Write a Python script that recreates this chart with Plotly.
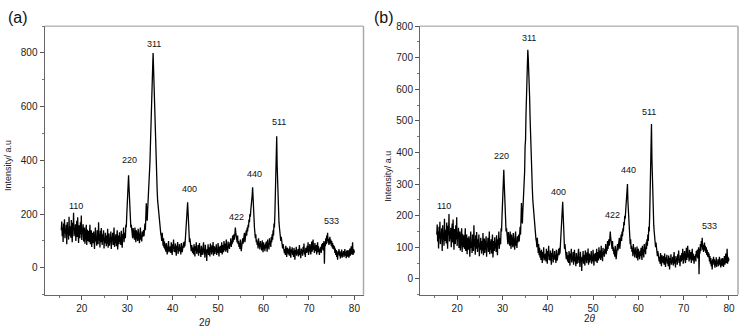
import plotly.graph_objects as go

# ---------------- data ----------------
two_theta_start = 15.5
two_theta_step = 0.1
# intensity of sample (a), one row per degree (0.1 deg steps)
intensity_a = [
    140,172,118,150,96,165,128,181,110,145,   # 15.5
    132,160,88,170,125,142,105,190,120,138,   # 16.5
    155,112,178,130,95,168,140,205,118,150,   # 17.5
    126,162,100,148,175,115,188,132,92,158,   # 18.5
    138,110,170,125,195,104,146,130,162,98,   # 19.5
    128,150,90,135,112,160,85,142,120,100,    # 20.5
    138,95,125,160,88,118,140,78,130,108,     # 21.5
    92,135,110,70,128,150,98,115,82,140,      # 22.5
    118,88,170,102,125,76,138,95,148,110,     # 23.5
    85,125,100,140,72,112,92,130,105,80,      # 24.5
    120,90,145,75,108,128,82,110,95,135,      # 25.5
    70,115,100,130,85,105,150,78,118,92,      # 26.5
    125,80,110,140,68,102,120,88,132,96,      # 27.5
    112,85,138,100,75,125,108,150,95,118,     # 28.5
    130,110,160,150,195,230,290,320,345,300,  # 29.5
    260,210,175,150,160,125,140,110,148,122,  # 30.5
    135,105,150,118,95,140,112,128,100,145,   # 31.5
    110,130,92,125,150,105,120,98,135,115,    # 32.5
    128,140,118,150,165,140,185,240,200,175,  # 33.5
    215,245,270,300,340,390,450,530,600,650,  # 34.5
    700,745,800,735,680,600,520,455,400,355,  # 35.5
    310,285,250,230,200,185,170,150,140,125,  # 36.5
    118,100,130,95,82,110,75,98,68,88,        # 37.5
    60,92,72,50,85,65,100,58,78,62,           # 38.5
    80,55,95,68,48,88,72,105,60,75,           # 39.5
    58,90,66,45,82,70,96,52,74,64,            # 40.5
    88,60,76,50,92,68,58,85,72,95,            # 41.5
    75,98,80,112,140,175,215,235,244,205,     # 42.5
    160,120,95,110,78,90,62,85,70,55,         # 43.5
    75,50,88,60,42,80,65,95,52,70,            # 44.5
    58,85,45,72,92,55,68,40,82,60,            # 45.5
    48,78,62,95,50,70,38,86,58,66,            # 46.5
    25,70,55,88,48,76,60,42,90,64,            # 47.5
    72,50,84,58,96,45,68,80,52,75,            # 48.5
    60,88,48,70,55,92,66,42,78,58,            # 49.5
    82,55,70,95,50,68,85,58,100,65,           # 50.5
    72,90,60,105,68,80,56,98,75,88,           # 51.5
    70,95,82,110,78,100,88,120,95,115,        # 52.5
    125,105,140,150,130,118,108,95,120,88,    # 53.5
    100,78,92,70,105,85,62,96,80,110,         # 54.5
    90,118,100,130,95,125,110,140,120,150,    # 55.5
    135,160,150,180,170,200,190,215,230,250,  # 56.5
    270,300,245,210,180,150,130,110,125,95,   # 57.5
    105,85,98,72,110,80,92,68,100,78,         # 58.5
    88,65,102,75,58,95,70,85,62,90,           # 59.5
    72,98,80,60,105,75,92,68,110,85,          # 60.5
    100,78,115,95,125,105,140,120,165,150,    # 61.5
    200,260,330,390,490,380,300,240,200,170,  # 62.5
    150,120,135,100,115,85,95,72,88,65,       # 63.5
    78,55,70,48,82,60,40,75,58,66,            # 64.5
    50,72,45,80,58,38,68,55,76,48,            # 65.5
    62,40,74,55,30,66,50,78,45,60,            # 66.5
    52,70,42,64,85,48,58,36,72,55,            # 67.5
    66,45,78,58,90,50,62,40,75,68,            # 68.5
    55,82,60,95,48,70,58,88,65,50,            # 69.5
    72,98,60,85,105,68,78,55,92,70,           # 70.5
    62,85,50,75,95,58,80,66,48,72,            # 71.5
    60,78,55,88,70,92,65,80,100,15,           # 72.5
    95,80,110,88,120,100,130,92,108,85,       # 73.5
    98,115,90,105,82,100,76,92,70,85,         # 74.5
    68,80,55,72,48,66,40,58,30,62,            # 75.5
    50,70,45,62,35,58,42,68,38,55,            # 76.5
    48,62,40,56,70,45,58,36,64,50,            # 77.5
    42,66,52,38,60,72,45,58,80,50,            # 78.5
    62,95,48,70,55,65,                        # 79.5
]
# sample (b) is the same pattern except around the 311 reflection (34.5-36.4 deg)
peak311_b = [215,245,270,300,340,420,440,520,590,640,
             680,725,700,670,630,575,510,450,400,355]
intensity_b = intensity_a[:190] + peak311_b + intensity_a[210:]

two_theta = [round(two_theta_start + i * two_theta_step, 2) for i in range(len(intensity_a))]

peak_labels = ["110", "220", "311", "400", "422", "440", "511", "533"]
label_x_a = [18.7, 30.4, 35.9, 43.6, 54.0, 58.0, 63.5, 74.9]
label_y_a = [230, 401, 832, 292, 190, 350, 544, 175]
label_x_b = [17.2, 29.7, 35.8, 42.4, 54.2, 57.9, 62.4, 75.6]
label_y_b = [232, 389, 763, 276, 201, 346, 527, 167]

# ---------------- figure ----------------
W, H = 740, 330
fig = go.Figure()
for xa, ya, yv in (("x", "y", intensity_a), ("x2", "y2", intensity_b)):
    fig.add_trace(go.Scatter(x=two_theta, y=yv, mode="lines",
                             line=dict(color="black", width=1.3),
                             xaxis=xa, yaxis=ya, showlegend=False, hoverinfo="skip"))

def px_x(p):
    return p / W

def px_y(p):
    return 1 - p / H

dom_a = [px_x(44.5), px_x(363.5)]
dom_b = [px_x(420), px_x(738)]
dom_y = [px_y(294), px_y(20.5)]

FONT = "Liberation Sans, Arial, sans-serif"
tickfont = dict(family=FONT, size=10, color="#222")
common_x = dict(range=[11.8, 82], dtick=10, tick0=0, ticks="outside", ticklen=4,
                tickcolor="#555", showline=True, linecolor="#666", linewidth=1,
                showgrid=False, zeroline=False, tickfont=tickfont,
                minor=dict(dtick=5, tick0=0, ticks="outside", ticklen=2, tickcolor="#777"))
common_y = dict(ticks="outside", ticklen=4, tickcolor="#555", showline=True,
                linecolor="#666", linewidth=1, showgrid=False, zeroline=False,
                tickfont=tickfont)

fig.update_layout(
    width=W, height=H, autosize=False,
    margin=dict(l=0, r=0, t=0, b=0),
    paper_bgcolor="white", plot_bgcolor="white",
    xaxis=dict(domain=dom_a, anchor="y", **common_x),
    yaxis=dict(domain=dom_y, anchor="x", range=[-100, 900], dtick=200, tick0=0,
               minor=dict(dtick=100, tick0=0, ticks="outside", ticklen=2, tickcolor="#777"),
               **common_y),
    xaxis2=dict(domain=dom_b, anchor="y2", **common_x),
    yaxis2=dict(domain=dom_y, anchor="x2", range=[-50, 800], dtick=100, tick0=0,
                minor=dict(dtick=50, tick0=0, ticks="outside", ticklen=2, tickcolor="#777"),
                **common_y),
)

# lighter top / right frame lines
for d in (dom_a, dom_b):
    fig.add_shape(type="line", xref="paper", yref="paper", x0=d[0], x1=d[1],
                  y0=dom_y[1], y1=dom_y[1], line=dict(color="#999", width=1))
    fig.add_shape(type="line", xref="paper", yref="paper", x0=d[1], x1=d[1],
                  y0=dom_y[0], y1=dom_y[1], line=dict(color="#aaa", width=1.5))

lblfont = dict(family=FONT, size=9, color="#111")
for t, x, y in zip(peak_labels, label_x_a, label_y_a):
    fig.add_annotation(x=x, y=y, xref="x", yref="y", text=t, showarrow=False,
                       font=lblfont, xanchor="center", yanchor="middle")
for t, x, y in zip(peak_labels, label_x_b, label_y_b):
    fig.add_annotation(x=x, y=y, xref="x2", yref="y2", text=t, showarrow=False,
                       font=lblfont, xanchor="center", yanchor="middle")

titlefont = dict(family=FONT, size=9, color="#222")
for txt, cx in (("(a)", 17.5), ("(b)", 384)):
    fig.add_annotation(x=px_x(cx), y=px_y(11.5), xref="paper", yref="paper", text=txt,
                       showarrow=False, font=dict(family=FONT, size=16, color="#111"),
                       xanchor="center", yanchor="middle")
for cx, cy in ((8, 163), (388, 174)):
    fig.add_annotation(x=px_x(cx), y=px_y(cy), xref="paper", yref="paper", text="Intensity/ a.u",
                       textangle=-90, showarrow=False, font=titlefont,
                       xanchor="center", yanchor="middle")
for cx, cy in ((205, 322), (590, 318)):
    fig.add_annotation(x=px_x(cx), y=px_y(cy), xref="paper", yref="paper", text="2<i>θ</i>",
                       showarrow=False, font=dict(family=FONT, size=10, color="#222"),
                       xanchor="center", yanchor="middle")

fig.write_html("out.html", config={"displayModeBar": False},
               post_script="document.body.style.margin='0px';document.body.style.overflow='hidden';")
